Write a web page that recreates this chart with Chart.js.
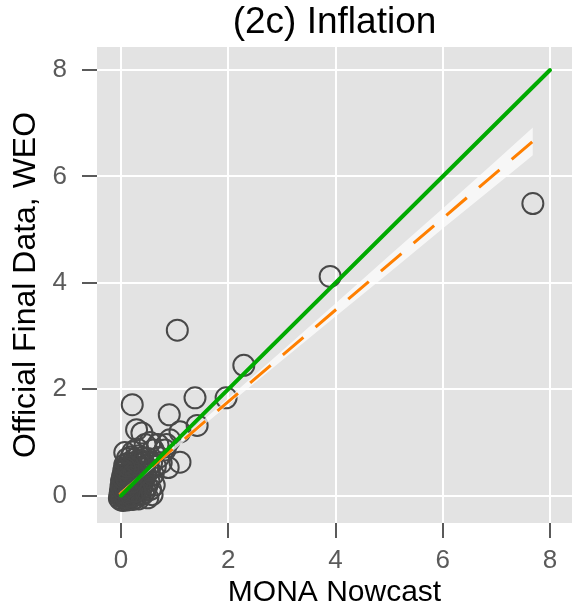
<!DOCTYPE html>
<html><head><meta charset="utf-8">
<style>html,body{margin:0;padding:0;background:#fff;}canvas{display:block;}</style>
<script src="https://cdn.jsdelivr.net/npm/chart.js@4.4.1/dist/chart.umd.min.js"></script>
</head><body>
<canvas id="c" width="572" height="613"></canvas>
<script>
const titleText = "(2c) Inflation";
const xTitle = "MONA Nowcast";
const yTitle = "Official Final Data, WEO";
const xTicks = [0, 2, 4, 6, 8];
const yTicks = [0, 2, 4, 6, 8];

// scatter points (MONA nowcast vs official final data)
const pointsX = [
  7.68, 3.90, 1.05, 2.29, 1.38, 1.96, 0.21, 0.90, 1.42, 0.29, 0.39, 1.10, 0.91, 0.85, 1.10,
  -0.03, 0.00, 0.04, 0.08, 0.12, 0.17, 0.22, 0.27, 0.33,
  -0.02, 0.02, 0.06, 0.10, 0.14, 0.19, 0.24, 0.30, 0.36, 0.42,
  -0.01, 0.03, 0.07, 0.11, 0.16, 0.21, 0.26, 0.31, 0.37, 0.45,
  0.00, 0.05, 0.09, 0.13, 0.18, 0.23, 0.28, 0.34, 0.40, 0.48,
  0.01, 0.06, 0.11, 0.15, 0.20, 0.25, 0.30, 0.36, 0.43,
  0.03, 0.08, 0.13, 0.18, 0.23, 0.28, 0.33, 0.39, 0.46,
  0.05, 0.10, 0.16, 0.21, 0.27, 0.32, 0.38, 0.44,
  0.07, 0.14, 0.20, 0.26, 0.31, 0.37, 0.42,
  0.12, 0.19, 0.25, 0.33, 0.40,
  0.52, 0.55, 0.58, 0.50, 0.62, 0.60, 0.53, 0.57, 0.50, 0.64,
  0.07, 0.45, 0.54, 0.69, 0.82, 0.88, 0.60, 0.22, 0.30, 0.70, 0.75,
  0.01, 0.05, 0.09, 0.15, 0.20, 0.26, 0.02, 0.08, 0.13, 0.19, 0.04, 0.10, 0.17, 0.24, 0.07, 0.14
];
const pointsY = [
  5.49, 4.12, 3.11, 2.45, 1.84, 1.84, 1.71, 1.52, 1.32, 1.24, 1.18, 1.20, 1.05, 0.96, 0.63,
  -0.05, -0.08, -0.09, -0.06, -0.08, -0.05, -0.07, -0.04, -0.06,
  0.02, 0.00, 0.03, 0.01, 0.04, 0.02, 0.05, 0.03, 0.01, 0.04,
  0.09, 0.12, 0.08, 0.13, 0.10, 0.14, 0.11, 0.15, 0.12, 0.10,
  0.18, 0.21, 0.17, 0.22, 0.19, 0.23, 0.20, 0.24, 0.21, 0.18,
  0.28, 0.30, 0.27, 0.32, 0.29, 0.33, 0.30, 0.34, 0.31,
  0.37, 0.40, 0.36, 0.41, 0.38, 0.43, 0.39, 0.44, 0.40,
  0.47, 0.50, 0.46, 0.52, 0.49, 0.54, 0.51, 0.56,
  0.58, 0.61, 0.57, 0.63, 0.60, 0.66, 0.62,
  0.70, 0.73, 0.69, 0.75, 0.72,
  0.28, 0.12, 0.02, -0.04, 0.20, 0.40, 0.48, 0.62, 0.70, 0.55,
  0.81, 0.96, 1.00, 0.96, 0.86, 0.53, 0.86, 0.82, 0.88, 0.72, 0.62,
  -0.02, 0.05, -0.03, 0.07, -0.01, 0.08, 0.14, 0.15, 0.24, 0.25, 0.33, 0.34, 0.35, 0.42, 0.52, 0.55
];

// 45-degree reference line
const refX = [0, 8];
const refY = [0, 8];
// fitted regression line
const fitX = [-0.03, 7.68];
const fitY = [0.02, 6.66];
// confidence band of the fit
const bandX = [-0.03, 0.5, 1, 2, 3, 4, 5, 6, 7, 7.68];
const bandLow = [-0.02, 0.44, 0.87, 1.71, 2.54, 3.37, 4.19, 5.02, 5.84, 6.40];
const bandHigh = [0.06, 0.51, 0.95, 1.83, 2.72, 3.61, 4.51, 5.40, 6.30, 6.92];

const xy = (xs, ys) => xs.map((x, i) => ({x: x, y: ys[i]}));

const FONT = '"Liberation Sans", Arial, Helvetica, sans-serif';
Chart.defaults.font.family = FONT;

const panelBg = {
  id: 'panelBg',
  beforeDraw(chart) {
    const {ctx, chartArea: a} = chart;
    ctx.save();
    ctx.fillStyle = '#e3e3e3';
    ctx.fillRect(a.left, a.top, a.right - a.left, a.bottom - a.top);
    ctx.restore();
  }
};

// title centred over the plotting panel
const panelTitle = {
  id: 'panelTitle',
  afterDraw(chart) {
    const {ctx, chartArea: a} = chart;
    ctx.save();
    ctx.fillStyle = '#000';
    ctx.font = '37px ' + FONT;
    ctx.textAlign = 'center';
    ctx.textBaseline = 'middle';
    ctx.fillText(titleText, (a.left + a.right) / 2, 22.5);
    ctx.restore();
  }
};

new Chart(document.getElementById('c'), {
  type: 'scatter',
  data: {
    datasets: [
      {
        label: 'points', data: xy(pointsX, pointsY),
        pointRadius: 10.5, pointHoverRadius: 10.5, pointBorderWidth: 2,
        borderColor: '#484848', pointBorderColor: '#484848',
        backgroundColor: 'rgba(0,0,0,0)', pointBackgroundColor: 'rgba(0,0,0,0)',
        order: 4
      },
      {
        label: 'low', type: 'line', data: xy(bandX, bandLow), showLine: true,
        borderWidth: 0, borderColor: 'rgba(0,0,0,0)', pointRadius: 0, fill: false, order: 3
      },
      {
        label: 'high', type: 'line', data: xy(bandX, bandHigh), showLine: true,
        borderWidth: 0, borderColor: 'rgba(0,0,0,0)', pointRadius: 0,
        fill: '-1', backgroundColor: 'rgba(255,255,255,0.72)', order: 3
      },
      {
        label: 'fit', type: 'line', data: xy(fitX, fitY), showLine: true,
        borderColor: '#ff7f00', borderWidth: 3, borderDash: [27, 16],
        pointRadius: 0, fill: false, order: 2
      },
      {
        label: 'ref', type: 'line', data: xy(refX, refY), showLine: true,
        borderColor: '#00aa00', borderWidth: 4, borderCapStyle: 'round',
        pointRadius: 0, fill: false, order: 1
      }
    ]
  },
  options: {
    responsive: false,
    animation: false,
    devicePixelRatio: 1,
    layout: {autoPadding: false, padding: {top: 47, left: 0, right: 0, bottom: 0}},
    plugins: {
      legend: {display: false},
      tooltip: {enabled: false},
      title: {display: false}
    },
    scales: {
      x: {
        type: 'linear', min: -0.4476, max: 8.41,
        afterFit(s) { s.height = 90; s.paddingLeft = 0; s.paddingRight = 0; },
        afterBuildTicks(s) { s.ticks = xTicks.map(v => ({value: v})); },
        grid: {color: '#ffffff', lineWidth: 2, tickColor: '#5a5a5a', tickLength: 15, tickWidth: 2},
        border: {display: false},
        ticks: {color: '#5a5a5a', font: {size: 26}, padding: 7, maxRotation: 0},
        title: {display: true, text: xTitle, color: '#000', font: {size: 30, lineHeight: 1.2}, padding: {top: 2, bottom: 2}}
      },
      y: {
        type: 'linear', min: -0.513, max: 8.433,
        afterFit(s) { s.width = 97; s.paddingTop = 0; s.paddingBottom = 0; },
        afterBuildTicks(s) { s.ticks = yTicks.map(v => ({value: v})); },
        grid: {color: '#ffffff', lineWidth: 2, tickColor: '#5a5a5a', tickLength: 15, tickWidth: 2},
        border: {display: false},
        ticks: {color: '#5a5a5a', font: {size: 26}, padding: 15},
        title: {display: true, text: yTitle, color: '#000', font: {size: 32, lineHeight: 1.2}, padding: {top: 7, bottom: 7}}
      }
    }
  },
  plugins: [panelBg, panelTitle]
});
</script>
</body></html>
